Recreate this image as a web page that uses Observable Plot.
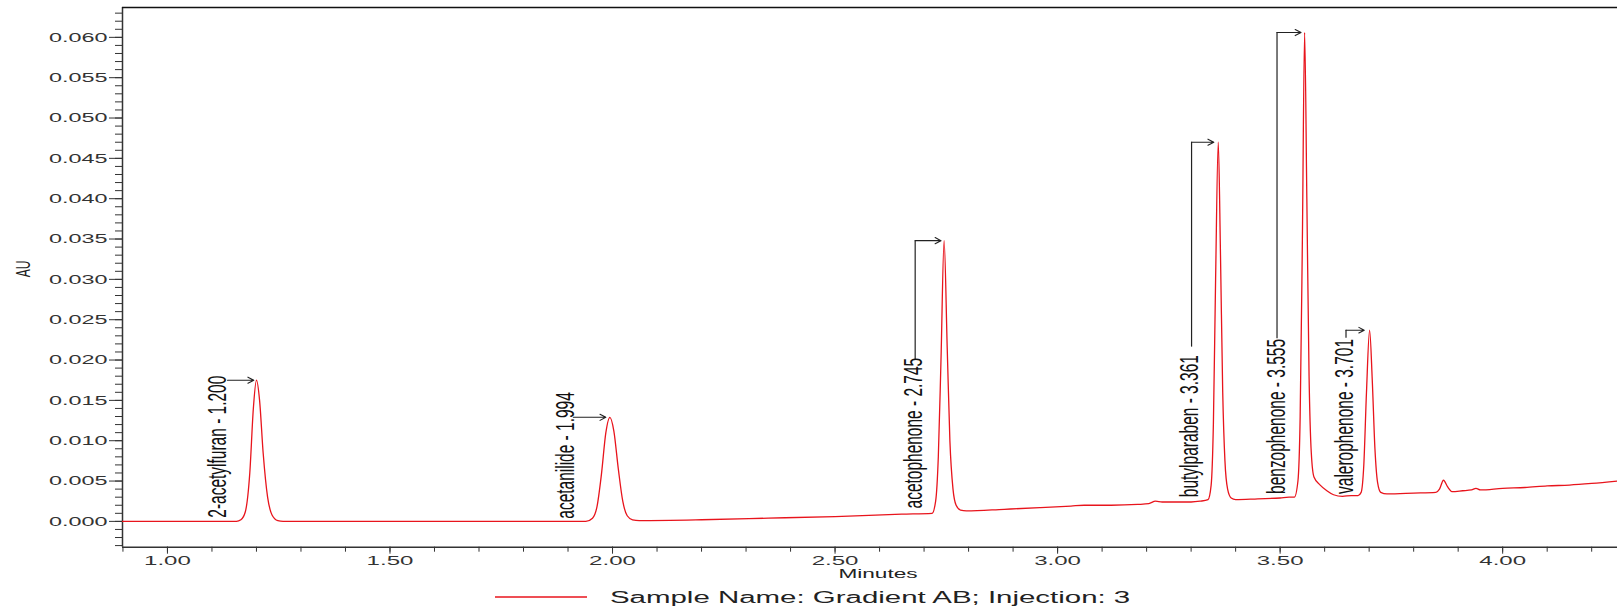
<!DOCTYPE html>
<html><head><meta charset="utf-8">
<script src="https://cdn.jsdelivr.net/npm/d3@7"></script>
<script src="https://cdn.jsdelivr.net/npm/@observablehq/plot@0.6"></script>
<style>
body{margin:0;background:#fff;}
#chart svg,#legend svg{display:block;overflow:visible}
</style>
</head><body><div id="chart"></div><div id="legend"></div>
<script>
// ---- data ----
const xDomain = [0.899, 4.258];          // minutes
const yDomain = [-0.0032, 0.0637];       // AU
const xMajor = [1.00, 1.50, 2.00, 2.50, 3.00, 3.50, 4.00];
const xMinor = d3.range(9, 43).map(i => i / 10);
const yMajor = [0, 0.005, 0.010, 0.015, 0.020, 0.025, 0.030, 0.035, 0.040, 0.045, 0.050, 0.055, 0.060];
const yMinor = d3.range(-3, 64).map(i => i / 1000);

const traceT = [
  0.899, 1.00, 1.10, 1.155,
  1.165, 1.175, 1.185, 1.193, 1.200, 1.207, 1.215, 1.225, 1.235, 1.248, 1.26,
  1.40, 1.60, 1.80, 1.94,
  1.955, 1.965, 1.975, 1.985, 1.994, 2.003, 2.013, 2.023, 2.033, 2.045, 2.06,
  2.20, 2.35, 2.50, 2.65, 2.718,
  2.726, 2.732, 2.738, 2.745, 2.752, 2.758, 2.765, 2.772, 2.782, 2.795,
  2.88, 2.96, 3.03, 3.06, 3.12, 3.18, 3.205, 3.22, 3.235, 3.26, 3.30, 3.32, 3.338,
  3.345, 3.350, 3.355, 3.361, 3.366, 3.371, 3.376, 3.382, 3.390, 3.40,
  3.45, 3.50, 3.52, 3.532,
  3.540, 3.545, 3.550, 3.555, 3.560, 3.565, 3.570, 3.576, 3.590, 3.605, 3.620, 3.640,
  3.66, 3.675,
  3.682, 3.688, 3.694, 3.701, 3.707, 3.713, 3.719, 3.726, 3.74,
  3.80, 3.85, 3.858, 3.867, 3.876, 3.886, 3.91, 3.93, 3.94, 3.95,
  4.00, 4.05, 4.10, 4.15, 4.20, 4.258
];
const traceAU = [
  0, 0, 0, 0,
  0.0002, 0.0012, 0.0060, 0.0140, 0.0175, 0.0150, 0.0085, 0.0030, 0.0008, 0.0001, 0,
  0, 0, 0, 0,
  0.0004, 0.0018, 0.0058, 0.0110, 0.0129, 0.0112, 0.0065, 0.0025, 0.0007, 0.0002, 0.0001,
  0.0002, 0.0004, 0.0006, 0.0009, 0.0010,
  0.0025, 0.0080, 0.0200, 0.0348, 0.0215, 0.0100, 0.0040, 0.0020, 0.0014, 0.0013,
  0.0015, 0.0017, 0.0019, 0.0020, 0.0020, 0.0021, 0.0022, 0.0025, 0.0024, 0.0024, 0.0024, 0.0025, 0.0027,
  0.0045, 0.0120, 0.0300, 0.0470, 0.0330, 0.0160, 0.0075, 0.0040, 0.0029, 0.0027,
  0.0028, 0.0029, 0.0030, 0.0030,
  0.0050, 0.0130, 0.0350, 0.0606, 0.0400, 0.0180, 0.0085, 0.0055, 0.0045, 0.0038, 0.0033, 0.0031,
  0.0032, 0.0032,
  0.0036, 0.0070, 0.0160, 0.0237, 0.0175, 0.0090, 0.0048, 0.0036, 0.0034,
  0.0035, 0.0036, 0.0040, 0.0051, 0.0043, 0.0037, 0.0038, 0.0039, 0.0041, 0.0039,
  0.0041, 0.0042, 0.0044, 0.0045, 0.0047, 0.0050
];

const peakNames = ["2-acetylfuran", "acetanilide", "acetophenone", "butylparaben", "benzophenone", "valerophenone"];
const peakRT    = [1.200, 1.994, 2.745, 3.361, 3.555, 3.701];
const peakApex  = [0.0175, 0.0129, 0.0348, 0.0470, 0.0606, 0.0237];
const labelT    = [1.114, 1.894, 2.676, 3.297, 3.492, 3.646];
const labelBase = [0.00046, 0.00033, 0.0016, 0.0030, 0.0034, 0.0034];
const leaderT   = [1.135, 1.912, 2.680, 3.301, 3.493, 3.648];
const leaderLow = [null, null, 0.0200, 0.0216, 0.02265, 0.0227];
const arrowTipT = [1.194, 1.985, 2.738, 3.351, 3.547, 3.689];

const legendText = "Sample Name: Gradient AB; Injection: 3";

// ---- tables ----
const trace = traceT.map((t, i) => ({t, au: traceAU[i]}));
const peaks = peakNames.map((n, i) => ({
  text: `${n} - ${peakRT[i].toFixed(3)}`,
  lt: labelT[i], lb: labelBase[i], ax: leaderT[i], low: leaderLow[i],
  tip: arrowTipT[i], apex: peakApex[i]
}));

const ink = "#222";
const red = "#e8141c";

const chart = Plot.plot({
  width: 1617, height: 586,
  marginLeft: 122, marginRight: 0, marginTop: 7, marginBottom: 39.3,
  x: {domain: xDomain},
  y: {domain: yDomain},
  style: {fontFamily: "'Liberation Sans', Arial, sans-serif", color: ink, background: "#fff"},
  marks: [
    Plot.axisY({ticks: yMinor, tickSize: 7, text: null, stroke: "#333"}),
    Plot.axisY({ticks: yMajor, tickSize: 13, tickPadding: 2, tickFormat: d3.format(".3f"),
                label: null, fontSize: 13, fill: "#333", stroke: "#333"}),
    Plot.axisX({ticks: xMinor, tickSize: 5, text: null, stroke: "#333"}),
    Plot.axisX({ticks: xMajor, tickSize: 7, tickPadding: 2, tickFormat: d3.format(".2f"),
                label: null, fontSize: 13, fill: "#333", stroke: "#333"}),
    Plot.ruleX([xDomain[0]], {stroke: "#333", strokeWidth: 1.5}),
    Plot.ruleY([yDomain[0]], {stroke: "#333", strokeWidth: 1.5}),
    Plot.ruleY([yDomain[1]], {stroke: "#111", strokeWidth: 1.5}),
    Plot.line(trace, {x: "t", y: "au", curve: "monotone-x", stroke: red, strokeWidth: 1.3, clip: true}),
    Plot.ruleX(peaks.filter(d => d.low != null), {x: "ax", y1: "low", y2: "apex", stroke: ink, strokeWidth: 1.2}),
    Plot.arrow(peaks, {x1: "ax", x2: "tip", y1: "apex", y2: "apex", stroke: ink, strokeWidth: 1.1,
                       headLength: 9, headAngle: 55}),
    Plot.text(["AU"], {frameAnchor: "left", dx: -99, rotate: -90, fontSize: 12, fill: ink}),
    Plot.text(["Minutes"], {frameAnchor: "bottom", dx: 8, dy: 30.3, fontSize: 13, fill: "#222", fontWeight: 500}),
    Plot.text(peaks, {x: "lt", y: "lb", text: "text", rotate: -90, textAnchor: "start",
                      lineAnchor: "middle", fontSize: 15.5, fill: "#111"})
  ]
});
document.getElementById("chart").appendChild(chart);

function num(v) { return v != null && /^-?[\d.]+$/.test(v) ? +v : 0; }
function stretch(nodes, sx, sy) {
  nodes.forEach(t => {
    const x = num(t.getAttribute("x")), y = num(t.getAttribute("y"));
    const tr = t.getAttribute("transform") || "";
    t.setAttribute("transform", `${tr} translate(${x},${y}) scale(${sx},${sy}) translate(${-x},${-y})`);
  });
}
stretch(chart.querySelectorAll('g[aria-label="y-axis tick label"] text'), 1.8, 1);
stretch(chart.querySelectorAll('g[aria-label="x-axis tick label"] text'), 1.85, 1);
const textGroups = chart.querySelectorAll('g[aria-label="text"]');
stretch(textGroups[0].querySelectorAll("text"), 1, 1.66);   // AU
stretch(textGroups[1].querySelectorAll("text"), 1.74, 1);   // Minutes
stretch(textGroups[2].querySelectorAll("text"), 1, 1.65);   // peak labels

// ---- legend below the chart ----
const leg = d3.select("#legend").append("svg").attr("width", 1617).attr("height", 22);
leg.append("line").attr("x1", 495).attr("x2", 587).attr("y1", 11).attr("y2", 11)
  .attr("stroke", red).attr("stroke-width", 1.3);
leg.append("text").attr("x", 610).attr("y", 17)
  .attr("font-family", "'Liberation Sans', Arial, sans-serif").attr("font-size", 16).attr("fill", "#222")
  .attr("transform", "translate(610,17) scale(1.84,1) translate(-610,-17)")
  .text(legendText);
</script></body></html>
